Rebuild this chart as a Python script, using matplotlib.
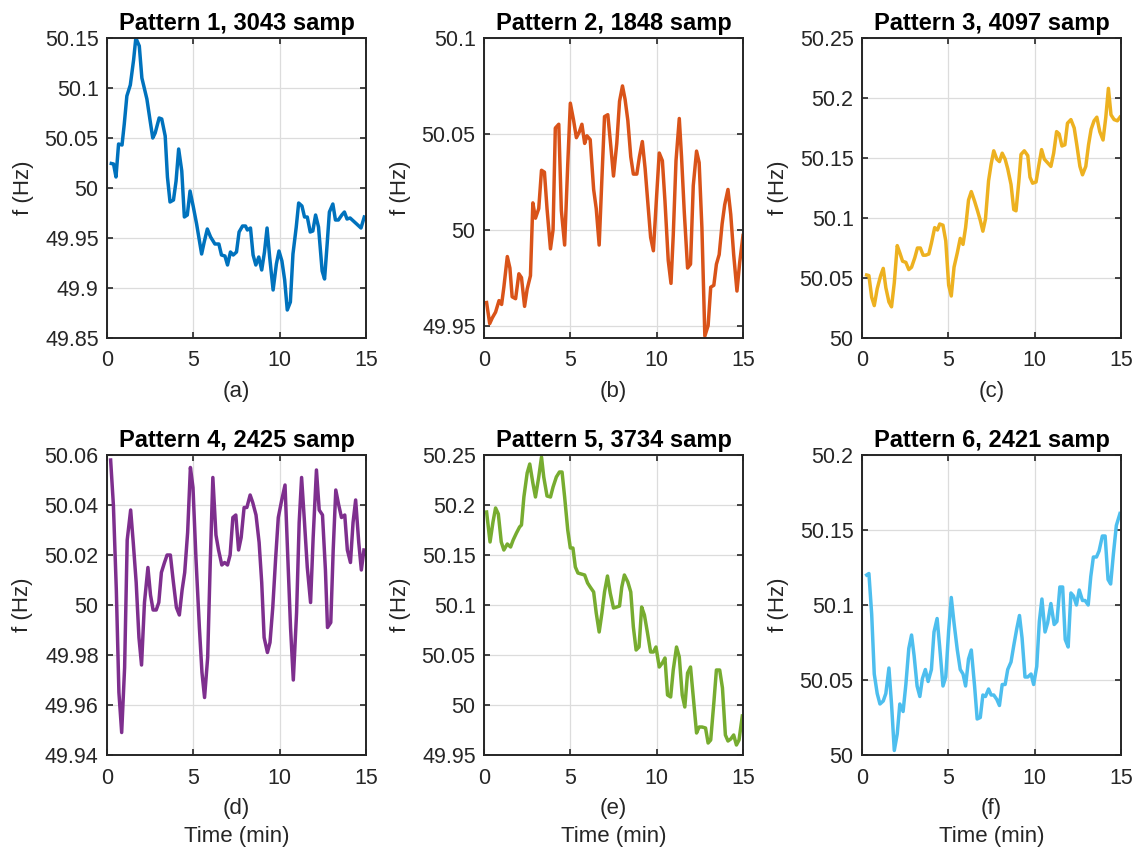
import numpy as np
import matplotlib
matplotlib.use("Agg")
import matplotlib.pyplot as plt

plt.rcParams["font.family"] = ["Liberation Sans", "DejaVu Sans"]

# ── 数据 ──
t1 = [0.25, 0.38, 0.52, 0.67, 0.87, 1.0, 1.15, 1.35, 1.54, 1.67, 1.87, 2.02, 2.31, 2.5, 2.65, 2.79,
      3.02, 3.17, 3.37, 3.5, 3.65, 3.85, 4.0, 4.15, 4.33, 4.48, 4.65, 4.81, 5.0, 5.19, 5.48, 5.63,
      5.81, 6.0, 6.25, 6.48, 6.63, 6.83, 6.98, 7.15, 7.31, 7.5, 7.65, 7.85, 8.02, 8.13, 8.31, 8.46,
      8.62, 8.79, 8.96, 9.12, 9.27, 9.42, 9.62, 9.81, 9.96, 10.13, 10.29, 10.44, 10.62, 10.77, 10.96,
      11.1, 11.29, 11.44, 11.6, 11.77, 11.92, 12.08, 12.25, 12.46, 12.6, 12.75, 12.88, 13.08, 13.23,
      13.4, 13.6, 13.75, 13.9, 14.08, 14.27, 14.46, 14.71, 14.9]
f1 = [50.0245, 50.024, 50.011, 50.044, 50.043, 50.064, 50.092, 50.103, 50.128, 50.15, 50.142, 50.110,
      50.089, 50.067, 50.050, 50.055, 50.070, 50.069, 50.052, 50.011, 49.986, 49.988, 50.007, 50.039,
      50.017, 49.971, 49.973, 49.997, 49.981, 49.964, 49.934, 49.946, 49.959, 49.951, 49.944, 49.944,
      49.933, 49.932, 49.923, 49.936, 49.933, 49.936, 49.956, 49.962, 49.962, 49.958, 49.960, 49.933,
      49.923, 49.931, 49.918, 49.936, 49.960, 49.931, 49.898, 49.924, 49.937, 49.927, 49.908, 49.878,
      49.886, 49.934, 49.961, 49.985, 49.982, 49.971, 49.971, 49.956, 49.957, 49.973, 49.961, 49.917,
      49.909, 49.944, 49.976, 49.984, 49.968, 49.968, 49.973, 49.976, 49.969, 49.970, 49.967, 49.964,
      49.960, 49.971]

t2 = [0.15, 0.33, 0.48, 0.67, 0.87, 1.02, 1.15, 1.35, 1.5, 1.63, 1.83, 2.02, 2.17, 2.35, 2.5, 2.69,
      2.83, 2.98, 3.17, 3.33, 3.5, 3.65, 3.85, 4.0, 4.13, 4.33, 4.48, 4.67, 4.85, 5.0, 5.19, 5.35,
      5.52, 5.67, 5.83, 5.96, 6.15, 6.35, 6.5, 6.67, 6.83, 6.98, 7.17, 7.35, 7.5, 7.69, 7.85, 8.02,
      8.17, 8.33, 8.5, 8.65, 8.85, 9.0, 9.17, 9.33, 9.48, 9.65, 9.81, 10.0, 10.15, 10.33, 10.48,
      10.67, 10.83, 10.96, 11.12, 11.31, 11.44, 11.6, 11.79, 11.96, 12.12, 12.31, 12.46, 12.62,
      12.79, 12.98, 13.13, 13.31, 13.46, 13.62, 13.79, 13.94, 14.13, 14.29, 14.46, 14.65, 14.81, 15.0]
f2 = [49.962, 49.951, 49.954, 49.957, 49.963, 49.961, 49.970, 49.986, 49.980, 49.965, 49.964, 49.977,
      49.975, 49.960, 49.969, 49.976, 50.014, 50.006, 50.011, 50.031, 50.030, 50.011, 49.990, 50.000,
      50.053, 50.055, 50.010, 49.992, 50.034, 50.066, 50.057, 50.048, 50.051, 50.055, 50.045, 50.049,
      50.047, 50.021, 50.011, 49.992, 50.027, 50.059, 50.060, 50.043, 50.028, 50.045, 50.067, 50.075,
      50.068, 50.057, 50.038, 50.029, 50.029, 50.038, 50.046, 50.032, 50.015, 49.996, 49.989, 50.018,
      50.040, 50.036, 50.015, 49.984, 49.972, 49.997, 50.036, 50.058, 50.038, 50.009, 49.980, 49.982,
      50.023, 50.041, 50.035, 50.001, 49.9445, 49.950, 49.970, 49.971, 49.982, 49.987, 50.003, 50.013,
      50.021, 50.008, 49.987, 49.968, 49.983, 49.997]

t3 = [0.27, 0.4, 0.56, 0.71, 0.88, 1.08, 1.23, 1.38, 1.56, 1.71, 1.87, 2.04, 2.19, 2.35, 2.54, 2.71,
      2.87, 3.06, 3.21, 3.38, 3.54, 3.69, 3.87, 4.02, 4.21, 4.37, 4.5, 4.69, 4.85, 5.02, 5.17, 5.33,
      5.52, 5.69, 5.85, 6.0, 6.17, 6.33, 6.52, 6.69, 6.85, 7.0, 7.15, 7.33, 7.48, 7.63, 7.81, 7.96,
      8.12, 8.29, 8.44, 8.63, 8.79, 8.92, 9.08, 9.21, 9.4, 9.6, 9.73, 9.88, 10.08, 10.23, 10.4, 10.56,
      10.75, 10.94, 11.1, 11.27, 11.42, 11.58, 11.75, 11.9, 12.1, 12.29, 12.44, 12.62, 12.77, 12.96,
      13.12, 13.27, 13.44, 13.6, 13.77, 13.96, 14.12, 14.27, 14.42, 14.6, 14.79, 14.94]
f3 = [50.0525, 50.052, 50.034, 50.027, 50.041, 50.052, 50.058, 50.042, 50.030, 50.026, 50.046, 50.077,
      50.071, 50.064, 50.063, 50.057, 50.059, 50.067, 50.075, 50.075, 50.069, 50.069, 50.070, 50.079,
      50.092, 50.090, 50.095, 50.094, 50.081, 50.044, 50.035, 50.059, 50.071, 50.083, 50.078, 50.092,
      50.115, 50.122, 50.114, 50.106, 50.098, 50.089, 50.099, 50.131, 50.145, 50.156, 50.149, 50.147,
      50.154, 50.149, 50.141, 50.128, 50.107, 50.106, 50.130, 50.153, 50.156, 50.152, 50.134, 50.129,
      50.130, 50.143, 50.157, 50.149, 50.146, 50.143, 50.154, 50.172, 50.170, 50.160, 50.161, 50.179,
      50.182, 50.175, 50.161, 50.143, 50.136, 50.143, 50.161, 50.174, 50.181, 50.184, 50.172, 50.165,
      50.184, 50.208, 50.186, 50.182, 50.181, 50.184]

t4 = [0.21, 0.37, 0.54, 0.69, 0.85, 1.02, 1.17, 1.37, 1.52, 1.69, 1.85, 2.0, 2.17, 2.37, 2.52, 2.67,
      2.85, 3.0, 3.15, 3.33, 3.48, 3.67, 3.83, 4.02, 4.19, 4.35, 4.5, 4.67, 4.83, 4.98, 5.15, 5.35,
      5.5, 5.65, 5.83, 5.98, 6.13, 6.31, 6.46, 6.65, 6.81, 6.98, 7.13, 7.29, 7.46, 7.62, 7.77, 7.94,
      8.1, 8.29, 8.44, 8.63, 8.81, 8.96, 9.1, 9.29, 9.44, 9.6, 9.77, 9.92, 10.12, 10.31, 10.46, 10.63,
      10.79, 10.98, 11.13, 11.27, 11.42, 11.6, 11.79, 11.94, 12.13, 12.29, 12.48, 12.65, 12.77, 12.96,
      13.1, 13.25, 13.42, 13.58, 13.77, 13.92, 14.1, 14.25, 14.4, 14.58, 14.73, 14.88]
f4 = [50.058, 50.040, 50.006, 49.965, 49.949, 49.975, 50.026, 50.038, 50.025, 50.009, 49.987, 49.976,
      50.001, 50.015, 50.004, 49.998, 49.998, 50.001, 50.013, 50.017, 50.020, 50.020, 50.010, 49.999,
      49.996, 50.006, 50.013, 50.029, 50.055, 50.047, 50.019, 49.991, 49.973, 49.963, 49.979, 50.017,
      50.051, 50.028, 50.022, 50.016, 50.017, 50.016, 50.020, 50.035, 50.036, 50.022, 50.027, 50.039,
      50.039, 50.044, 50.041, 50.036, 50.025, 50.009, 49.987, 49.981, 49.985, 49.999, 50.019, 50.035,
      50.042, 50.048, 50.021, 49.991, 49.970, 49.997, 50.033, 50.051, 50.035, 50.015, 50.001, 50.027,
      50.054, 50.038, 50.036, 50.014, 49.991, 49.993, 50.022, 50.046, 50.040, 50.035, 50.036, 50.022,
      50.017, 50.033, 50.042, 50.025, 50.014, 50.022]

t5 = [0.15, 0.35, 0.52, 0.67, 0.83, 1.0, 1.15, 1.35, 1.54, 1.69, 1.88, 2.06, 2.17, 2.31, 2.5, 2.65,
      2.83, 2.98, 3.17, 3.33, 3.46, 3.65, 3.85, 4.0, 4.19, 4.37, 4.52, 4.67, 4.85, 5.0, 5.15, 5.29,
      5.44, 5.63, 5.83, 6.0, 6.15, 6.35, 6.5, 6.67, 6.83, 6.98, 7.15, 7.31, 7.5, 7.69, 7.85, 7.98,
      8.13, 8.33, 8.5, 8.65, 8.81, 8.98, 9.13, 9.29, 9.46, 9.65, 9.81, 9.96, 10.15, 10.33, 10.48,
      10.63, 10.81, 10.96, 11.15, 11.31, 11.48, 11.63, 11.79, 11.96, 12.12, 12.31, 12.46, 12.63,
      12.83, 12.98, 13.13, 13.31, 13.46, 13.65, 13.81, 13.98, 14.13, 14.29, 14.46, 14.62, 14.77, 14.96]
f5 = [50.193, 50.163, 50.183, 50.197, 50.191, 50.163, 50.155, 50.161, 50.158, 50.165, 50.172, 50.178,
      50.180, 50.208, 50.232, 50.241, 50.222, 50.208, 50.228, 50.248, 50.228, 50.209, 50.208, 50.218,
      50.228, 50.233, 50.233, 50.208, 50.175, 50.157, 50.157, 50.138, 50.132, 50.131, 50.130, 50.122,
      50.118, 50.113, 50.092, 50.073, 50.092, 50.113, 50.129, 50.112, 50.097, 50.098, 50.099, 50.118,
      50.130, 50.123, 50.113, 50.078, 50.055, 50.058, 50.098, 50.090, 50.073, 50.053, 50.053, 50.058,
      50.038, 50.042, 50.047, 50.010, 50.008, 50.035, 50.058, 50.048, 50.010, 49.998, 50.032, 50.038,
      50.008, 49.972, 49.978, 49.978, 49.977, 49.962, 49.965, 50.002, 50.035, 50.035, 50.017, 49.970,
      49.964, 49.966, 49.970, 49.960, 49.965, 49.989]

t6 = [0.27, 0.4, 0.56, 0.71, 0.88, 1.04, 1.23, 1.38, 1.56, 1.71, 1.87, 2.04, 2.19, 2.38, 2.54, 2.71,
      2.87, 3.02, 3.19, 3.35, 3.5, 3.67, 3.83, 4.02, 4.17, 4.35, 4.5, 4.69, 4.85, 5.02, 5.17, 5.33,
      5.52, 5.69, 5.85, 6.0, 6.17, 6.33, 6.52, 6.67, 6.85, 7.0, 7.15, 7.33, 7.48, 7.63, 7.81, 7.96,
      8.12, 8.29, 8.44, 8.63, 8.79, 8.96, 9.12, 9.27, 9.44, 9.6, 9.79, 9.94, 10.12, 10.27, 10.42,
      10.6, 10.75, 10.94, 11.13, 11.29, 11.46, 11.62, 11.77, 11.94, 12.1, 12.25, 12.42, 12.58, 12.77,
      12.92, 13.1, 13.25, 13.4, 13.58, 13.73, 13.92, 14.08, 14.25, 14.4, 14.56, 14.73, 14.94]
f6 = [50.120, 50.121, 50.094, 50.054, 50.041, 50.034, 50.036, 50.041, 50.058, 50.034, 50.003, 50.014,
      50.034, 50.029, 50.047, 50.071, 50.080, 50.066, 50.046, 50.039, 50.051, 50.057, 50.049, 50.057,
      50.082, 50.091, 50.072, 50.046, 50.052, 50.083, 50.105, 50.088, 50.070, 50.057, 50.054, 50.046,
      50.064, 50.070, 50.046, 50.024, 50.025, 50.040, 50.039, 50.044, 50.040, 50.040, 50.037, 50.033,
      50.047, 50.047, 50.057, 50.062, 50.073, 50.084, 50.093, 50.078, 50.052, 50.052, 50.054, 50.047,
      50.059, 50.089, 50.104, 50.082, 50.088, 50.101, 50.087, 50.089, 50.112, 50.112, 50.077, 50.072,
      50.108, 50.106, 50.100, 50.110, 50.103, 50.103, 50.100, 50.119, 50.132, 50.132, 50.136, 50.146,
      50.146, 50.117, 50.114, 50.134, 50.153, 50.161]

titles = ["Pattern 1, 3043 samp", "Pattern 2, 1848 samp", "Pattern 3, 4097 samp",
          "Pattern 4, 2425 samp", "Pattern 5, 3734 samp", "Pattern 6, 2421 samp"]
letters = ["(a)", "(b)", "(c)", "(d)", "(e)", "(f)"]
colors = ["#0072BD", "#D95319", "#EDB120", "#7E2F8E", "#77AC30", "#4DBEEE"]
ylims = [(49.85, 50.15), (49.9435, 50.1), (50.0, 50.25),
         (49.94, 50.06), (49.95, 50.25), (50.0, 50.2)]
yticks = [[49.85, 49.9, 49.95, 50, 50.05, 50.1, 50.15],
          [49.95, 50, 50.05, 50.1],
          [50, 50.05, 50.1, 50.15, 50.2, 50.25],
          [49.94, 49.96, 49.98, 50, 50.02, 50.04, 50.06],
          [49.95, 50, 50.05, 50.1, 50.15, 50.2, 50.25],
          [50, 50.05, 50.1, 50.15, 50.2]]
series = [(t1, f1), (t2, f2), (t3, f3), (t4, f4), (t5, f5), (t6, f6)]

# ── 画图 ──
fig = plt.figure(figsize=(11.38, 8.51), dpi=100)
W, H = 1138, 851
lefts = [107, 484, 862]
tops = [38, 455]
aw, ah = 259, 300

for i in range(6):
    r, c = divmod(i, 3)
    ax = fig.add_axes([lefts[c] / W, 1 - (tops[r] + ah) / H, aw / W, ah / H])
    t, f = series[i]
    ax.plot(t, f, color=colors[i], lw=2.5, solid_joinstyle="round")
    ax.set_xlim(0, 15)
    ax.set_ylim(*ylims[i])
    ax.set_xticks([0, 5, 10, 15])
    ax.set_yticks(yticks[i])
    ax.set_yticklabels([f"{v:g}" for v in yticks[i]])
    ax.grid(True, color="#dcdcdc", lw=0.9)
    ax.set_axisbelow(True)
    ax.tick_params(direction="in", top=True, right=True, length=4, width=1.2,
                   labelsize=15.5, labelcolor="#262626", color="#262626")
    ax.tick_params(axis="x", pad=9)
    ax.tick_params(axis="y", pad=6)
    for s in ax.spines.values():
        s.set_linewidth(1.4)
        s.set_color("#262626")
    ax.set_title(titles[i], fontsize=17, fontweight="bold", pad=6)
    ax.set_ylabel("f (Hz)", fontsize=16, color="#262626", labelpad=8)
    xl = letters[i] if r == 0 else letters[i] + "\nTime (min)"
    ax.set_xlabel(xl, fontsize=16, color="#262626", labelpad=7, linespacing=1.45)

fig.savefig("out.png", dpi=100)
